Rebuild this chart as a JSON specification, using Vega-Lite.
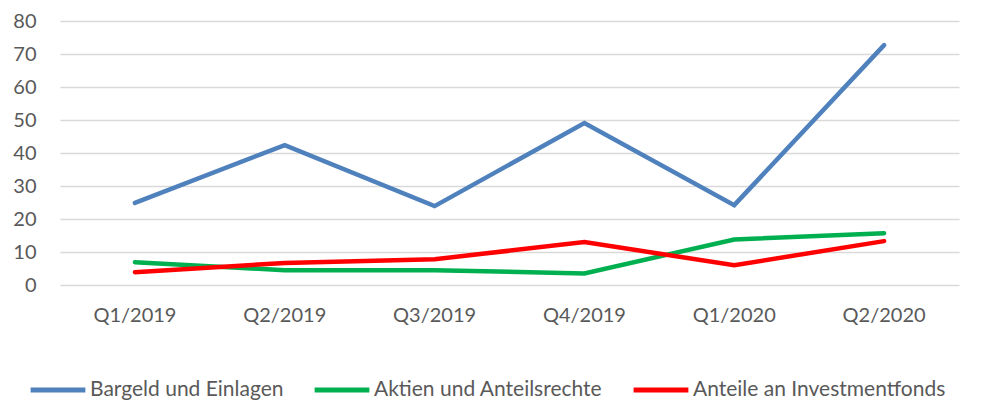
{
  "$schema": "https://vega.github.io/schema/vega-lite/v6.json",
  "autosize": {"type": "none"},
  "width": 899,
  "height": 264,
  "padding": {"left": 60, "top": 21, "right": 25, "bottom": 115},
  "background": "white",
  "config": {
    "view": {"stroke": null},
    "font": "Lato"
  },
  "data": {
    "values": [
      {"quarter": "Q1/2019", "series": "Bargeld und Einlagen", "value": 24.9},
      {"quarter": "Q2/2019", "series": "Bargeld und Einlagen", "value": 42.4},
      {"quarter": "Q3/2019", "series": "Bargeld und Einlagen", "value": 23.9},
      {"quarter": "Q4/2019", "series": "Bargeld und Einlagen", "value": 49.1},
      {"quarter": "Q1/2020", "series": "Bargeld und Einlagen", "value": 24.2},
      {"quarter": "Q2/2020", "series": "Bargeld und Einlagen", "value": 72.7},
      {"quarter": "Q1/2019", "series": "Aktien und Anteilsrechte", "value": 6.9},
      {"quarter": "Q2/2019", "series": "Aktien und Anteilsrechte", "value": 4.5},
      {"quarter": "Q3/2019", "series": "Aktien und Anteilsrechte", "value": 4.5},
      {"quarter": "Q4/2019", "series": "Aktien und Anteilsrechte", "value": 3.5},
      {"quarter": "Q1/2020", "series": "Aktien und Anteilsrechte", "value": 13.8},
      {"quarter": "Q2/2020", "series": "Aktien und Anteilsrechte", "value": 15.7},
      {"quarter": "Q1/2019", "series": "Anteile an Investmentfonds", "value": 3.9},
      {"quarter": "Q2/2019", "series": "Anteile an Investmentfonds", "value": 6.7},
      {"quarter": "Q3/2019", "series": "Anteile an Investmentfonds", "value": 7.8},
      {"quarter": "Q4/2019", "series": "Anteile an Investmentfonds", "value": 13.0},
      {"quarter": "Q1/2020", "series": "Anteile an Investmentfonds", "value": 6.0},
      {"quarter": "Q2/2020", "series": "Anteile an Investmentfonds", "value": 13.3}
    ]
  },
  "mark": {"type": "line", "strokeWidth": 4.5, "strokeCap": "round", "strokeJoin": "miter"},
  "encoding": {
    "x": {
      "field": "quarter",
      "type": "ordinal",
      "sort": null,
      "scale": {"type": "band", "paddingInner": 0, "paddingOuter": 0},
      "axis": {
        "title": null,
        "labelAngle": 0,
        "domain": false,
        "ticks": false,
        "labelPadding": 20,
        "labelFontSize": 20,
        "labelColor": "#595959",
        "grid": false
      }
    },
    "y": {
      "field": "value",
      "type": "quantitative",
      "scale": {"domain": [0, 80], "nice": false},
      "axis": {
        "title": null,
        "values": [0, 10, 20, 30, 40, 50, 60, 70, 80],
        "domain": false,
        "ticks": false,
        "labelPadding": 24,
        "labelFontSize": 20,
        "labelColor": "#595959",
        "gridColor": "#D9D9D9",
        "gridWidth": 1.3
      }
    },
    "color": {
      "field": "series",
      "type": "nominal",
      "scale": {
        "domain": ["Bargeld und Einlagen", "Aktien und Anteilsrechte", "Anteile an Investmentfonds"],
        "range": ["#4F81BD", "#00B050", "#FF0000"]
      },
      "legend": {
        "title": null,
        "orient": "none",
        "direction": "horizontal",
        "legendX": -32,
        "legendY": 339,
        "symbolType": "stroke",
        "symbolSize": 3000,
        "symbolStrokeWidth": 5,
        "labelFontSize": 21,
        "labelColor": "#595959",
        "labelLimit": 400,
        "labelOffset": 2,
        "columnPadding": 20,
        "symbolOffset": 0
      }
    }
  }
}
